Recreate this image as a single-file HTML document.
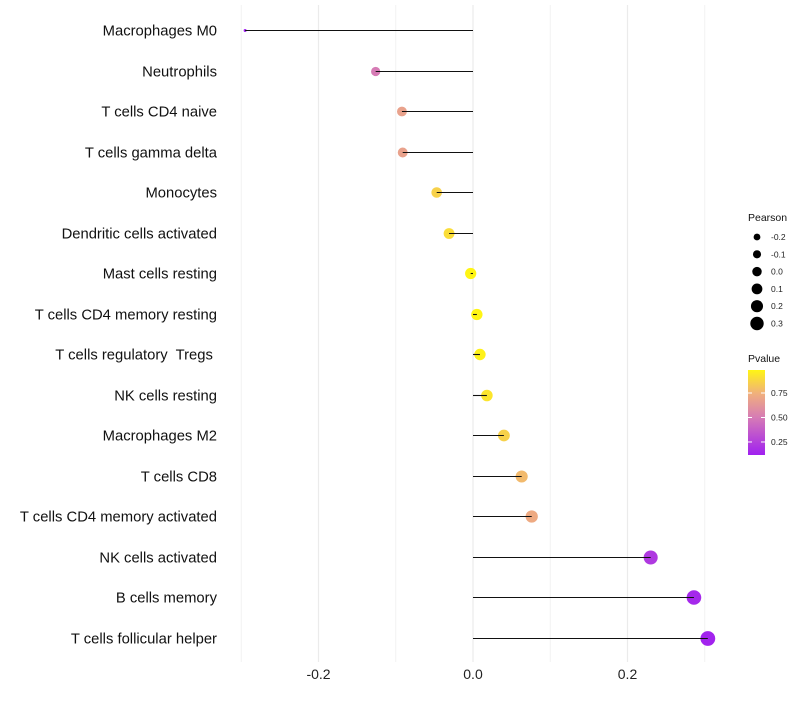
<!DOCTYPE html>
<html><head><meta charset="utf-8"><style>
body{margin:0;background:#fff;font-family:"Liberation Sans",sans-serif}
text{white-space:pre}
</style></head><body>
<svg id="chart" width="800" height="700" xmlns="http://www.w3.org/2000/svg"></svg>
<script>
const categories=["Macrophages M0","Neutrophils","T cells CD4 naive","T cells gamma delta","Monocytes","Dendritic cells activated","Mast cells resting","T cells CD4 memory resting","T cells regulatory  Tregs ","NK cells resting","Macrophages M2","T cells CD8","T cells CD4 memory activated","NK cells activated","B cells memory","T cells follicular helper"];
const pearson=[-0.295,-0.126,-0.092,-0.091,-0.047,-0.031,-0.003,0.005,0.009,0.018,0.040,0.063,0.076,0.230,0.286,0.304];
const pvalues=[0.12,0.5,0.68,0.68,0.86,0.9,1.0,0.99,0.97,0.93,0.86,0.78,0.72,0.22,0.15,0.13];
const xTicks=[-0.2,0.0,0.2];
const xMinor=[-0.3,-0.1,0.1,0.3];
const legendSizes=[-0.2,-0.1,0.0,0.1,0.2,0.3];
const legendP=[0.25,0.50,0.75];

const NS="http://www.w3.org/2000/svg";
const svg=document.getElementById('chart');
const x=v=>473+v*772.5;
const y=i=>Math.round(30+i*40.5)+0.5;
const rad=v=>1.5+5.9*Math.sqrt(Math.max(0,(v+0.295)/0.6));
const stops=[[0,[160,32,240]],[0.45,[215,125,180]],[0.72,[240,175,125]],[1,[255,245,20]]];
function col(p){let t=Math.max(0,Math.min(1,(p-0.117)/(0.985-0.117)));
 for(let k=1;k<stops.length;k++){if(t<=stops[k][0]){const a=stops[k-1],b=stops[k];const f=(t-a[0])/(b[0]-a[0]);
 const c=a[1].map((v,j)=>Math.round(v+(b[1][j]-v)*f));return `rgb(${c})`;}}return 'rgb(255,245,20)';}
function el(tag,attrs,name,txt){const e=document.createElementNS(NS,tag);for(const k in attrs)e.setAttribute(k,attrs[k]);
 
 
 if(txt!==undefined)e.textContent=txt;svg.appendChild(e);return e;}
xMinor.forEach(v=>el('line',{x1:x(v),x2:x(v),y1:5,y2:662,stroke:'#f2f2f2','stroke-width':1},'minor-gridline'));
xTicks.forEach(v=>{el('line',{x1:x(v),x2:x(v),y1:5,y2:662,stroke:'#ebebeb','stroke-width':1.2},'major-gridline');
 el('text',{x:x(v),y:679,'text-anchor':'middle','font-size':14,fill:'#222'},'x-tick-label',v.toFixed(1));});
categories.forEach((c,i)=>{
 el('text',{x:217,y:y(i)+5,'text-anchor':'end','font-size':14.8,fill:'#111'},'y-tick-label',c);
 el('circle',{cx:x(pearson[i]),cy:y(i),r:rad(pearson[i]),fill:col(pvalues[i])},'point');
 el('line',{x1:x(0),x2:x(pearson[i]),y1:y(i),y2:y(i),stroke:'#111','stroke-width':1.1},'stem');
});
el('text',{x:748,y:221,'font-size':10.5,fill:'#111'},'size-legend-title','Pearson');
legendSizes.forEach((v,k)=>{const yy=237+k*17.3;
 el('circle',{cx:757,cy:yy,r:3.4+(v+0.2)*6.6,fill:'#000'},'size-legend-key');
 el('text',{x:771,y:yy+3,'font-size':8.5,fill:'#222'},'size-legend-label',v.toFixed(1));});
el('text',{x:748,y:362,'font-size':10.5,fill:'#111'},'color-legend-title','Pvalue');
const defs=document.createElementNS(NS,'defs');defs.innerHTML='<linearGradient id="g" x1="0" y1="1" x2="0" y2="0">'+
 stops.map(s=>`<stop offset="${s[0]}" stop-color="rgb(${s[1]})"/>`).join('')+'</linearGradient>';svg.appendChild(defs);
el('rect',{x:748,y:370,width:17,height:85,fill:'url(#g)'},'color-bar');
const py=p=>455-(p-0.117)/(0.985-0.117)*85;
legendP.forEach(p=>{el('line',{x1:748,x2:752,y1:py(p),y2:py(p),stroke:'#fff'},'color-tick');
 el('line',{x1:761,x2:765,y1:py(p),y2:py(p),stroke:'#fff'},'color-tick');
 el('text',{x:771,y:py(p)+3,'font-size':8.5,fill:'#222'},'color-legend-label',p.toFixed(2));});
</script>
</body></html>
